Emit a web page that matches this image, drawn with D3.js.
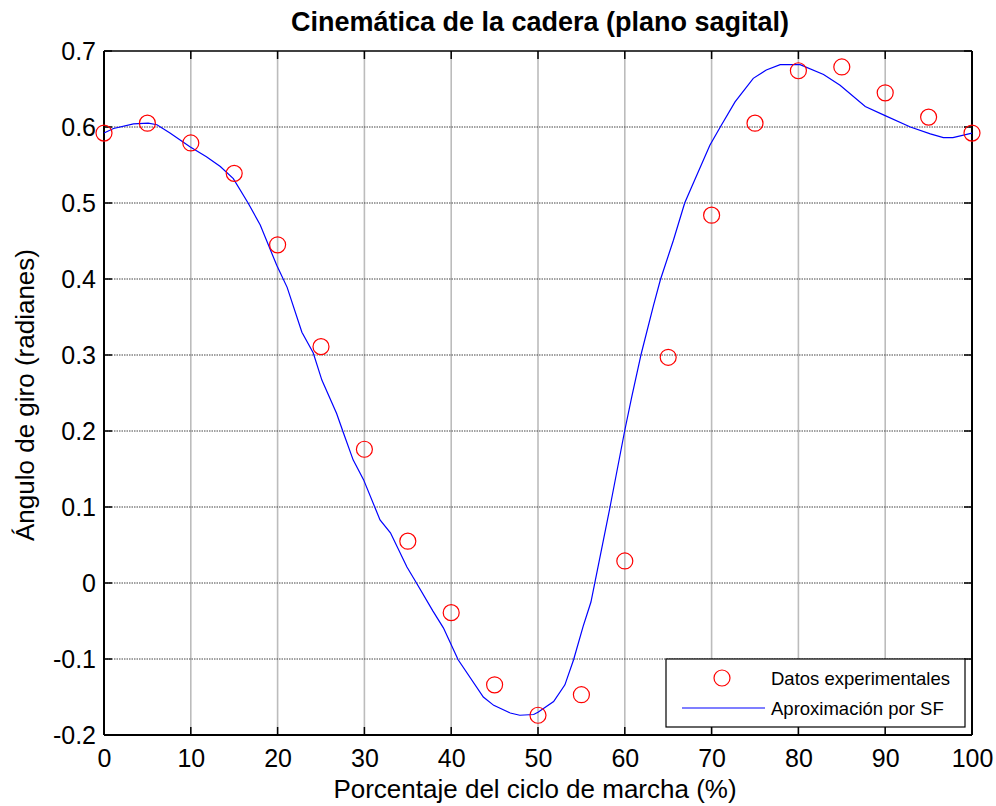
<!DOCTYPE html>
<html>
<head>
<meta charset="utf-8">
<script src="https://cdn.jsdelivr.net/npm/d3@7"></script>
<style>
  html, body { margin: 0; padding: 0; background: #fff; }
  svg { display: block; font-family: "Liberation Sans", Arial, Helvetica, sans-serif; }
</style>
</head>
<body>
<svg id="chart" width="996" height="806"></svg>
<script>
// Gait-cycle percentage of each measured sample
const sampleX = [0, 5, 10, 15, 20, 25, 30, 35, 40, 45, 50, 55, 60, 65, 70, 75, 80, 85, 90, 95, 100];
// Measured hip angle (radians)
const sampleY = [0.592, 0.605, 0.579, 0.539, 0.445, 0.311, 0.176, 0.055, -0.039, -0.134, -0.174,
                 -0.147, 0.029, 0.297, 0.484, 0.605, 0.674, 0.679, 0.645, 0.613, 0.592];

// Fourier-series fit, evaluated along the cycle
const fitX = [0, 1.1, 3.4, 5.1, 6.1, 7.6, 9.9, 11.8, 13.4, 14.9, 16.6, 18.0, 19.9, 21.1, 22.8, 24.1,
              25.1, 26.8, 27.6, 28.7, 29.9, 31.8, 33.0, 34.9, 36.0, 37.9, 39.1, 40.8, 43.7, 44.9,
              46.8, 47.9, 49.5, 50.0, 51.8, 53.1, 54.1, 55.2, 56.1, 58.3, 60.0, 60.8, 61.9, 63.3,
              64.1, 65.6, 66.9, 67.7, 69.8, 71.0, 72.7, 74.8, 76.3, 77.9, 80.2, 82.9, 84.8, 87.7,
              89.8, 92.9, 95.2, 96.7, 97.8, 100];
const fitY = [0.592, 0.598, 0.604, 0.605, 0.603, 0.592, 0.574, 0.561, 0.548, 0.532, 0.500, 0.471,
              0.418, 0.389, 0.330, 0.303, 0.267, 0.223, 0.197, 0.162, 0.136, 0.083, 0.066, 0.021,
              0.000, -0.037, -0.059, -0.101, -0.150, -0.161, -0.171, -0.174, -0.173, -0.170,
              -0.156, -0.134, -0.101, -0.057, -0.025, 0.100, 0.201, 0.245, 0.302, 0.365, 0.399,
              0.451, 0.500, 0.521, 0.576, 0.600, 0.633, 0.664, 0.675, 0.682, 0.682, 0.669, 0.655,
              0.627, 0.616, 0.600, 0.591, 0.586, 0.586, 0.592];

const xTicks = [0, 10, 20, 30, 40, 50, 60, 70, 80, 90, 100];
const yTicks = [-0.2, -0.1, 0, 0.1, 0.2, 0.3, 0.4, 0.5, 0.6, 0.7];

const titleText = "Cinemática de la cadera (plano sagital)";
const xLabel = "Porcentaje del ciclo de marcha (%)";
const yLabel = "Ángulo de giro (radianes)";
const legendLabels = ["Datos experimentales", "Aproximación por SF"];

const svg = d3.select("#chart");
const plotL = 104, plotR = 972, plotT = 51, plotB = 735;

const x = d3.scaleLinear().domain([0, 100]).range([plotL, plotR]);
const y = d3.scaleLinear().domain([-0.2, 0.7]).range([plotB, plotT]);

const fmtY = v => Math.abs(v) < 1e-9 ? "0" : (v < 0 ? "-" : "") + d3.format(".1f")(Math.abs(v));

// Grid: vertical lines light grey, horizontal lines dark dotted
svg.append("g").selectAll("line")
  .data(xTicks.filter(t => t > 0 && t < 100))
  .join("line")
  .attr("x1", d => x(d)).attr("x2", d => x(d))
  .attr("y1", plotT).attr("y2", plotB)
  .attr("stroke", "#bcbcbc").attr("stroke-width", 1.6);

svg.append("g").selectAll("line")
  .data(yTicks.filter(t => t > -0.2 + 1e-9 && t < 0.7 - 1e-9))
  .join("line")
  .attr("x1", plotL).attr("x2", plotR)
  .attr("y1", d => y(d)).attr("y2", d => y(d))
  .attr("stroke", "#444").attr("stroke-width", 1)
  .attr("stroke-dasharray", "1.5,1");

// Inward tick marks on all four sides
const tickLen = 8;
const ticks = svg.append("g").attr("stroke", "#000").attr("stroke-width", 1.5);
xTicks.forEach(t => {
  ticks.append("line").attr("x1", x(t)).attr("x2", x(t)).attr("y1", plotB).attr("y2", plotB - tickLen);
  ticks.append("line").attr("x1", x(t)).attr("x2", x(t)).attr("y1", plotT).attr("y2", plotT + tickLen);
});
yTicks.forEach(t => {
  ticks.append("line").attr("x1", plotL).attr("x2", plotL + tickLen).attr("y1", y(t)).attr("y2", y(t));
  ticks.append("line").attr("x1", plotR).attr("x2", plotR - tickLen).attr("y1", y(t)).attr("y2", y(t));
});

// Axis frame
svg.append("line").attr("x1", plotL).attr("x2", plotR).attr("y1", plotT).attr("y2", plotT)
  .attr("stroke", "#000").attr("stroke-width", 1.5);
svg.append("line").attr("x1", plotL).attr("x2", plotR).attr("y1", plotB).attr("y2", plotB)
  .attr("stroke", "#000").attr("stroke-width", 2);
svg.append("line").attr("x1", plotL).attr("x2", plotL).attr("y1", plotT).attr("y2", plotB)
  .attr("stroke", "#000").attr("stroke-width", 2);
svg.append("line").attr("x1", plotR).attr("x2", plotR).attr("y1", plotT).attr("y2", plotB)
  .attr("stroke", "#000").attr("stroke-width", 2);

// Tick labels via d3 axes (tick lines hidden, labels only)
const xAxis = svg.append("g").attr("transform", `translate(0,${plotB})`)
  .call(d3.axisBottom(x).tickValues(xTicks).tickSize(0).tickPadding(14).tickFormat(d3.format("d")));
xAxis.select(".domain").remove();
xAxis.selectAll("text").attr("font-size", 25).attr("fill", "#000")
  .attr("font-family", "Liberation Sans, Arial, sans-serif");

const yAxis = svg.append("g").attr("transform", `translate(${plotL},0)`)
  .call(d3.axisLeft(y).tickValues(yTicks).tickSize(0).tickPadding(8).tickFormat(fmtY));
yAxis.select(".domain").remove();
yAxis.selectAll("text").attr("font-size", 25).attr("fill", "#000")
  .attr("font-family", "Liberation Sans, Arial, sans-serif");

// Fitted curve
const line = d3.line().x((d, i) => x(fitX[i])).y(d => y(d));
svg.append("path").datum(fitY)
  .attr("d", line)
  .attr("fill", "none").attr("stroke", "#0000ff").attr("stroke-width", 1.2);

// Measured samples
svg.append("g").selectAll("circle")
  .data(sampleY)
  .join("circle")
  .attr("cx", (d, i) => x(sampleX[i])).attr("cy", d => y(d))
  .attr("r", 8)
  .attr("fill", "none").attr("stroke", "#ff0000").attr("stroke-width", 1.2);

// Title and axis labels
svg.append("text").attr("x", 540).attr("y", 31).attr("text-anchor", "middle")
  .attr("font-size", 27).attr("font-weight", "bold").text(titleText);
svg.append("text").attr("x", 535).attr("y", 798).attr("text-anchor", "middle")
  .attr("font-size", 26).text(xLabel);
svg.append("text").attr("transform", "translate(34,395) rotate(-90)").attr("text-anchor", "middle")
  .attr("font-size", 26).text(yLabel);

// Legend
const lg = svg.append("g");
lg.append("rect").attr("x", 666).attr("y", 659).attr("width", 299).attr("height", 68)
  .attr("fill", "#fff").attr("stroke", "#000").attr("stroke-width", 1.2);
lg.append("circle").attr("cx", 722).attr("cy", 678).attr("r", 8)
  .attr("fill", "none").attr("stroke", "#ff0000").attr("stroke-width", 1.2);
lg.append("line").attr("x1", 682).attr("x2", 765).attr("y1", 708).attr("y2", 708)
  .attr("stroke", "#0000ff").attr("stroke-width", 1.2);
lg.selectAll("text").data(legendLabels).join("text")
  .attr("x", 771).attr("y", (d, i) => 685 + i * 30)
  .attr("font-size", 18.5).text(d => d);
</script>
</body>
</html>
